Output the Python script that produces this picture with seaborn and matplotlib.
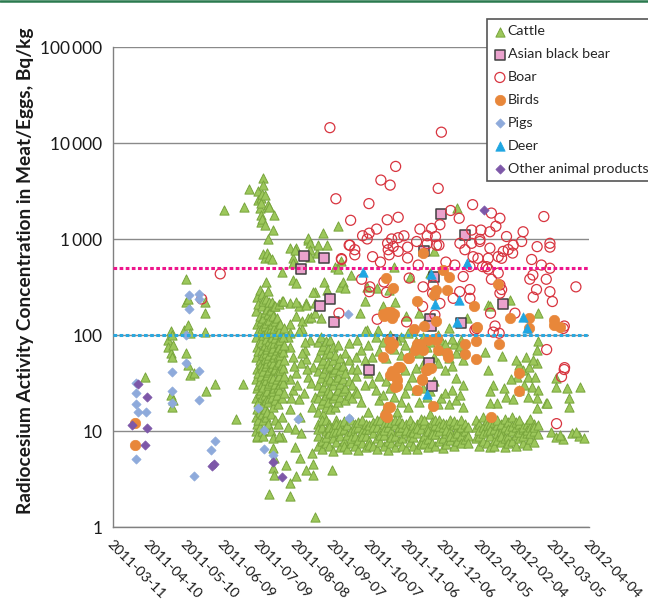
import numpy as np
import pandas as pd
import matplotlib
matplotlib.use('Agg')
import matplotlib.pyplot as plt
import matplotlib.dates as mdates
from matplotlib.lines import Line2D
from matplotlib.ticker import NullLocator
import seaborn as sns

START = pd.Timestamp('2011-03-11')

# --- data: (days since 2011-03-11, Bq/kg) ---
cattle_sparse = [
    (26, 37), (45, 90), (45, 75), (47, 110), (47, 65), (47, 24), (48, 100), (48, 60), (48, 18), (49, 80), (49, 21),
    (58, 113), (60, 385), (60, 220), (60, 65), (61, 240), (61, 127), (61, 49), (63, 106), (63, 39), (66, 40),
    (75, 225), (75, 170), (75, 109), (76, 26), (83, 31), (91, 2000), (101, 13.5), (106, 31), (107, 2200), (111, 3390),
    (119, 3160), (119, 2600), (120, 2100), (121, 2700), (121, 2400), (121, 1800), (121, 1520), (122, 3000),
    (122, 1650), (123, 4350), (123, 3700), (124, 2900), (124, 1400), (127, 2300), (128, 2200), (132, 1800),
    (131, 1250), (127, 1020), (123, 700), (124, 640), (126, 720), (128, 660), (130, 620), (138, 460), (125, 360),
    (147, 375),
    (120, 13.4), (118, 8.8), (131, 6.7), (131, 4.1), (132, 3.5), (128, 2.2), (145, 2.1), (165, 1.29), (150, 3.4),
    (145, 2.9), (142, 4.45), (153, 5.2), (149, 6.9), (158, 3.95), (164, 3.5), (164, 4.6), (163, 5.9), (179, 3.95),
    (138, 8.8), (132, 5.2),
]
cattle_upper = [
    (145, 810), (145, 215), (145, 130), (145, 105), (147, 640), (150, 810), (150, 160), (152, 200), (155, 140),
    (155, 115), (158, 215), (160, 990), (160, 150), (162, 155), (165, 285), (165, 170), (167, 720), (170, 150),
    (149, 783), (160, 1030), (161, 915), (161, 783), (161, 660), (168, 870), (175, 870), (172, 1170), (184, 1390),
    (187, 600), (182, 520), (184, 490), (195, 425), (147, 565), (150, 350), (164, 285), (173, 360), (175, 300),
    (186, 320), (188, 360), (158, 206), (165, 215), (150, 225), (206, 230), (190, 310),
    (145, 76), (147, 60), (150, 40), (145, 35), (147, 27), (152, 21.5), (145, 17), (153, 14.2), (158, 56),
    (160, 37), (161, 90), (157, 71), (164, 47), (165, 23), (149, 10.5), (154, 9.5), (143, 11), (143, 95),
    (148, 48), (151, 30), (155, 65), (156, 25), (159, 45), (162, 32), (163, 18), (146, 22), (154, 52), (157, 85),
    (152, 110),
    (230, 520), (208, 320), (216, 310), (231, 225), (243, 410), (260, 445), (282, 2100), (202, 170), (221, 200),
    (217, 114), (208, 114), (236, 97), (246, 114), (251, 170), (269, 89), (279, 82), (285, 89), (287, 70),
    (263, 750), (307, 206), (226, 300), (240, 160), (255, 130), (275, 120), (290, 150),
]
cattle_late = [
    (325, 232), (309, 200), (348, 172), (305, 67), (319, 61), (348, 88), (347, 71), (307, 44), (311, 30.5),
    (309, 26), (320, 28), (322, 23), (328, 21.5), (333, 49), (336, 44), (341, 47), (347, 51), (340, 37), (346, 37),
    (343, 29), (348, 27), (347, 22), (340, 23), (333, 27), (331, 37), (355, 19.5), (347, 17.4), (315, 19.5),
    (309, 19.5), (338, 60), (344, 55), (330, 55), (326, 35), (337, 30),
    (363, 36), (363, 29), (372, 28), (374, 22), (374, 18), (383, 29), (356, 19.5), (359, 9.9), (363, 8.8),
    (369, 8.4), (376, 9.5), (382, 8.9), (366, 9.2), (379, 9.8), (386, 8.6),
]
cattle_column = {
    117: [180, 95, 60, 35, 22, 14, 10], 118: [250, 130, 75, 45, 28, 17, 12, 9],
    119: [210, 110, 68, 40, 30, 20, 13], 120: [300, 160, 90, 55, 33, 25, 16, 11],
    121: [140, 85, 50, 38, 27, 18], 122: [270, 200, 120, 70, 46, 31, 23, 15, 10],
    123: [230, 150, 100, 62, 42, 29, 19, 13, 9], 124: [175, 125, 80, 57, 36, 24, 17],
    125: [240, 135, 92, 66, 48, 34, 21, 14, 11], 126: [190, 105, 72, 52, 39, 26, 16],
    127: [290, 165, 115, 78, 58, 41, 30, 20, 12], 128: [220, 145, 88, 63, 44, 32, 22],
    129: [185, 120, 82, 54, 37, 25, 15, 10], 130: [220, 130, 97, 69, 47, 33, 23],
    131: [160, 108, 74, 51, 36, 26, 18, 8.5], 132: [200, 118, 84, 59, 43, 28],
    133: [200, 140, 93, 64, 45, 31, 21, 13], 134: [150, 102, 71, 50, 35, 24],
    135: [125, 86, 61, 42, 29, 19, 12], 136: [210, 112, 76, 53, 38, 27, 9],
    137: [130, 90, 63, 44, 31], 138: [230, 105, 73, 49, 34, 22, 14],
    139: [230, 95, 67, 46, 32], 140: [120, 80, 55, 38, 25],
}
cattle_mid_a = {
    168: [85, 60, 42, 30, 22, 16], 170: [95, 70, 50, 36, 26, 19], 172: [78, 55, 40, 29, 21, 15],
    174: [88, 64, 46, 33, 24, 18], 176: [72, 52, 38, 27, 20], 178: [90, 66, 48, 35, 25, 17],
    180: [75, 55, 41, 30, 22], 182: [62, 45, 34, 24, 18], 184: [80, 50, 37, 27, 20],
    186: [58, 43, 31, 23], 188: [48, 35, 26], 190: [65, 40, 28, 21], 193: [55, 33, 24, 83],
    196: [45, 30, 22], 199: [38, 26, 60],
}
cattle_mid_b = {
    200: [90, 45, 25], 203: [70, 20], 206: [110, 55, 30], 209: [80, 40, 16],
    212: [60, 32], 215: [95, 27], 218: [68, 38, 21], 221: [85, 24],
    224: [58, 33, 18], 227: [100, 28], 230: [72, 39, 23], 233: [90, 47, 16],
    236: [62, 20], 239: [80, 43, 25], 242: [105, 30, 18], 245: [70, 37],
    248: [88, 46, 27], 251: [65, 20], 254: [95, 50, 28], 257: [75, 23],
    260: [85, 26, 15], 263: [60, 33], 266: [100, 52, 19], 269: [70, 22],
    272: [82, 44, 25], 275: [58, 19], 278: [92, 48, 27], 281: [66, 36, 21],
    284: [78, 24], 287: [55, 30, 18],
}
cattle_floor = {
    168: [12, 9, 7, 10.5], 171: [11, 8, 6.5, 13], 174: [13, 10, 7.5, 8.8], 177: [9.5, 7, 12, 11],
    180: [11, 8.5, 6.2, 9.8], 183: [10, 7.8, 13, 11.8], 186: [12, 9, 6.8, 10.2], 189: [10.5, 8, 7, 12.8],
    192: [11.5, 9.2, 6.5], 195: [13, 10, 7.5, 8.6], 198: [9, 12, 7, 10.8], 201: [11, 8.2, 6.3, 12.6],
    204: [10, 13, 7.6, 9], 207: [12, 9, 6.9, 10.6], 210: [10.5, 8, 11.5, 7.2], 213: [9.5, 7, 12.5, 11],
    216: [11, 8.5, 6.6, 13.2], 219: [10, 13, 7.8, 9.1], 222: [12, 9.2, 7, 10.4], 225: [11, 8, 6.4, 12.4],
    228: [10, 12.5, 7.5, 8.7], 231: [9, 11.5, 6.8, 13], 234: [13, 10, 8, 11.2], 237: [11, 8.5, 7, 12.2],
    240: [12, 9.5, 6.5, 10.3], 243: [10, 13, 7.8, 8.9], 246: [11.5, 8.8, 7, 9.9], 249: [9.5, 12, 6.6, 10.7],
    252: [10.5, 8, 7.4, 13.4], 255: [12, 9, 13, 7.6], 258: [11, 8.4, 6.9, 10], 261: [10, 12.5, 7.6, 9.3],
    264: [9.3, 11.5, 7, 13], 267: [13, 10, 8, 11.4], 270: [11, 8.6, 6.7, 12.1], 273: [12, 9.5, 7.3, 10.4],
    276: [10, 13, 8.2, 9], 279: [11.5, 9, 7, 12.7], 282: [10.5, 8, 12, 9.6], 285: [9, 11, 7.5, 13.1],
    288: [12, 10, 8.3], 291: [11, 9, 7.6],
}
cattle_floor_b = {
    297: [11, 8.5, 13], 300: [12, 9, 7, 10.2], 303: [11, 8, 14, 9.6], 306: [10, 7.5, 13, 11.6],
    309: [12, 9, 6.8, 10.4], 312: [10.5, 8, 7, 12.6], 315: [11.5, 9.5, 13, 8.2], 318: [10, 7.8, 12, 9],
    321: [11, 8.5, 6.9, 13.3], 324: [12.5, 9, 7.5, 10.6], 327: [10, 8, 14, 11.3], 330: [11, 9.2, 7, 12.4],
    333: [12, 8.5, 13, 9.8], 336: [10.5, 7.5, 11, 8.9], 339: [9.5, 12, 7.2, 10.3], 342: [11, 8.3, 13.5, 9.6],
    345: [10, 7.7, 12, 11.1], 348: [9.4, 11.6],
}
bear = [
    (156.6, 670), (172.7, 640), (153.6, 495), (177.6, 237), (169.7, 202), (180.6, 139), (209.6, 44),
    (268.6, 1850), (288.3, 1110), (254.9, 750), (262.9, 410), (259.6, 147), (260.4, 124), (284.8, 135),
    (259, 52), (261.5, 29.6), (228.2, 89), (319.7, 212),
]
boar = [
    (72.5, 239), (87.7, 437), (177.6, 14600), (269, 13100), (231.5, 5760), (219.4, 4150), (227, 3680),
    (266.4, 3400), (182.5, 2650), (209.6, 2360), (294.6, 2300), (194.6, 1580), (224.6, 1600), (233.6, 1700),
    (283.6, 1660), (215.9, 1280), (204.4, 1090), (209.8, 1160), (208.2, 1010), (228.2, 1010), (233.6, 1040),
    (238.3, 1090), (251.4, 1280), (261, 1300), (267.8, 1420), (257.4, 1090), (264.2, 1070), (265, 870),
    (267, 870), (257.4, 900), (248.7, 950), (241.3, 830), (233.6, 750), (229.5, 840), (225.4, 780),
    (226.2, 690), (224.9, 910), (193.4, 870), (198, 780), (198, 690), (212.6, 660), (219, 580), (187.2, 617),
    (250, 540), (272.7, 580), (280, 540), (284.2, 910), (288.3, 780), (293.8, 910), (300.5, 950),
    (293.8, 1250), (301.4, 1250), (295, 660), (299, 635), (292.4, 520), (302.8, 520), (307.4, 490),
    (203.6, 384), (210.4, 320), (209.8, 285), (224, 280), (254, 320), (286.9, 410), (284, 285), (292.4, 300),
    (292.4, 243), (276.6, 2000), (241.3, 640), (261.8, 275), (262.3, 335), (267.8, 215), (278.7, 243),
    (253.6, 200), (263.7, 163), (240.5, 138), (216.4, 147), (221.9, 360), (242.6, 395), (297.9, 118),
    (310, 1880), (317, 1660), (308.8, 1200), (313.7, 1370), (322.4, 1070), (336, 1200), (327.9, 870),
    (334.8, 950), (353, 1730), (358, 910), (358, 830), (347.5, 840), (319.7, 750), (323.8, 783), (327.4, 720),
    (318.4, 635), (315.6, 660), (308.8, 810), (300.6, 1000), (307.4, 635), (306, 520), (343, 617), (351, 540),
    (358, 500), (344, 425), (341.5, 385), (355, 384), (347, 300), (344.3, 250), (358, 285), (360, 225),
    (379.3, 320), (315.6, 445), (317, 335), (318.4, 300), (317, 275), (310, 384), (309.3, 170), (329.3, 170),
    (313, 125), (316.4, 105), (311.5, 108), (296.5, 114), (369, 118), (369.8, 125), (355.3, 71), (369.7, 44),
    (367.5, 37), (370, 46), (363.4, 12), (185, 170), (187, 630), (194, 870),
]
birds = [
    (18, 12.3), (18, 7.2),
    (223.6, 400), (229.5, 310), (253.6, 720), (270.5, 475), (275.4, 405), (273.8, 300), (264.5, 300),
    (262.9, 265), (249.2, 230), (227.4, 176), (221.3, 167), (228.2, 150), (246.7, 116), (254.9, 125),
    (264.5, 142), (295.7, 202), (297.9, 123), (288.3, 81), (297.3, 88), (297.3, 56), (273.8, 65), (274.6, 59),
    (266.4, 71), (264.5, 89), (257.7, 89), (253.6, 70.6), (249.2, 82), (242.6, 58), (233.6, 47), (226.8, 39),
    (231.7, 37), (232.3, 29.6), (229.5, 82), (226, 89), (221.4, 60), (260.2, 45.5), (256.3, 44), (252.8, 35),
    (248.7, 27), (262.3, 18.3), (226.8, 17.8), (222.7, 14.8), (288.3, 64), (315.6, 345), (316.4, 81),
    (325.2, 152), (341, 152), (341, 118), (361.2, 144), (361.2, 128), (366, 123), (332.8, 40), (332.8, 26),
    (309.3, 14), (226.8, 73), (228.2, 42), (235, 47), (232.3, 34.6), (231, 29), (225.4, 18), (224.2, 14),
    (241.8, 58), (247.3, 71), (251.4, 82), (252.8, 34.6), (256.9, 44), (258, 45.5), (265, 93), (222, 160),
    (225, 175), (230, 165),
]
pigs = [
    (19, 25), (19, 31.6), (19, 19.3), (20, 15.8), (19, 5.1), (27, 15.8), (48, 41), (48, 26.5), (48, 19.6),
    (60, 52), (70, 42), (70, 21.2), (83, 7.9), (80, 6.4), (66, 3.4), (119, 17.6), (123.5, 10.3), (123.5, 6.6),
    (131, 5.6), (62, 260), (70, 270), (70, 240), (62, 188), (60, 100), (151.6, 13.4), (192.6, 167),
    (193.5, 13.7),
]
deer = [
    (204.4, 455), (260.2, 435), (264, 210), (281.5, 138), (289.7, 570), (283.6, 232), (256.9, 24.5),
    (336, 155), (338.8, 118),
]
other = [
    (20, 31), (28, 23), (15.6, 11.5), (28, 10.7), (26, 7.2), (80.6, 4.3), (82.5, 4.6), (131, 4.8),
    (138.5, 3.3), (304, 2000),
]
tick_days = list(range(0, 391, 30))
ytick_vals = [1, 10, 100, 1000, 10000, 100000]
ytick_labels = ['1', '10', '100', '1\u2009000', '10\u2009000', '100\u2009000']
limit_lines = [(500, '#ee168c'), (100, '#29a9e1')]


def expand(groups):
    pairs = []
    for day, vals in groups.items():
        pairs += [(day, v) for v in vals]
    return pairs


def to_frame(pairs):
    df = pd.DataFrame(pairs, columns=['day', 'value'])
    df['date'] = START + pd.to_timedelta(df['day'], unit='D')
    return df


cattle = (cattle_sparse + cattle_upper + cattle_late + expand(cattle_column) + expand(cattle_mid_a)
          + expand(cattle_mid_b) + expand(cattle_floor) + expand(cattle_floor_b))

series = [
    ('Cattle', cattle, '^', '#9cc75b', '#78a53c', 44, 0.7),
    ('Asian black bear', bear, 's', '#eaa2cd', '#404040', 52, 1.1),
    ('Boar', boar, 'o', 'none', '#d8343f', 52, 0.9),
    ('Birds', birds, 'o', '#e8873a', '#e8873a', 56, 0.5),
    ('Pigs', pigs, 'D', '#8eaadb', '#8eaadb', 22, 0.5),
    ('Deer', deer, '^', '#1fa6e2', '#1fa6e2', 46, 0.5),
    ('Other animal products', other, 'D', '#7d57a8', '#7d57a8', 22, 0.5),
]

sns.set_theme(style='white')
plt.rcParams['font.family'] = ['Lato', 'DejaVu Sans']

fig = plt.figure(figsize=(6.48, 6.02), dpi=100)
ax = fig.add_axes([0.1748, 0.1243, 0.7341, 0.7968])

for name, pairs, marker, face, edge, size, lw in series:
    df = to_frame(pairs)
    sns.scatterplot(data=df, x='date', y='value', marker=marker, s=size,
                    color=edge if face == 'none' else face, edgecolor=edge,
                    linewidth=lw, label=name, ax=ax, zorder=3)
    if face == 'none':
        ax.collections[-1].set_facecolor('none')
        ax.collections[-1].set_edgecolor(edge)

for val, col in limit_lines:
    ax.axhline(val, color=col, linestyle=(0, (1.2, 0.8)), linewidth=2.2, zorder=4)

ax.set_yscale('log')
ax.set_ylim(1, 100000)
ax.set_yticks(ytick_vals)
ax.set_yticklabels(ytick_labels)
ax.yaxis.set_minor_locator(NullLocator())

tick_dates = [START + pd.Timedelta(days=d) for d in tick_days]
ax.set_xlim(tick_dates[0], tick_dates[-1])
ax.set_xticks(tick_dates)
ax.xaxis.set_major_formatter(mdates.DateFormatter('%Y-%m-%d'))
ax.xaxis.set_minor_locator(NullLocator())
for lab in ax.get_xticklabels():
    lab.set_rotation(-45)
    lab.set_ha('left')
    lab.set_va('top')
    lab.set_rotation_mode('anchor')

ax.grid(axis='y', which='major', color='#8a8a8a', linewidth=1.0)
ax.set_axisbelow(True)
for side in ['top', 'right']:
    ax.spines[side].set_visible(False)
for side in ['left', 'bottom']:
    ax.spines[side].set_color('#808080')
    ax.spines[side].set_linewidth(1.0)
ax.tick_params(axis='both', which='major', direction='out', length=5, width=1, color='#808080',
               labelcolor='#1a1a1a')
ax.tick_params(axis='y', labelsize=12.5, pad=3)
ax.tick_params(axis='x', labelsize=10.3, pad=3)

ax.set_xlabel('')
ax.set_ylabel('Radiocesium Activity Concentration in Meat/Eggs, Bq/kg', fontsize=13.8,
              fontweight='bold', color='#1a1a1a')
ax.yaxis.set_label_coords(-0.166, 0.534)

leg = ax.legend(loc='upper left', bbox_to_anchor=(487 / 648, 1 - 19 / 602), bbox_transform=fig.transFigure,
                frameon=True, fancybox=False, framealpha=1, edgecolor='#555555', fontsize=10.3,
                borderpad=0.45, handletextpad=0.1, handlelength=0.9, labelspacing=0.76,
                borderaxespad=0, scatterpoints=1)
leg.get_frame().set_linewidth(1.2)

fig.add_artist(Line2D([0, 1], [0.9985, 0.9985], transform=fig.transFigure, color='#2b7a4f', linewidth=1.8))

fig.savefig('out.png', dpi=100)
